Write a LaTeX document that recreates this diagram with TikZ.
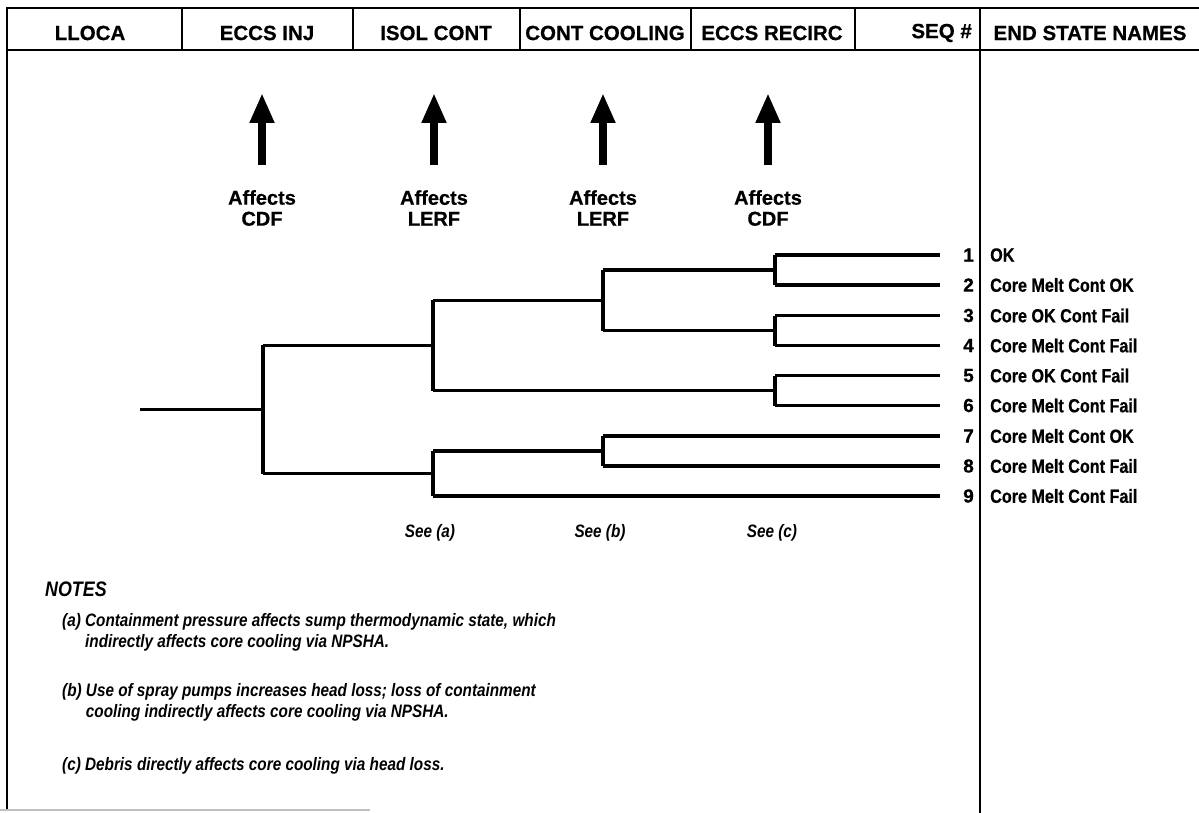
\documentclass[tikz,border=0pt]{standalone}
\usepackage{fontspec}
\setmainfont{Liberation Sans}[BoldFeatures={FakeBold=0.6}]
\newfontfamily\cnd{Liberation Sans}[FakeStretch=0.85,BoldFeatures={FakeBold=0.6}]
\usetikzlibrary{arrows.meta}
\begin{document}
\begin{tikzpicture}[x=1pt,y=-1pt,
  frame/.style={line width=2.8pt},
  branch/.style={line width=3.2pt},
  hdr/.style={font=\fontsize{20.5}{22}\selectfont\bfseries, inner sep=0pt},
  aff/.style={font=\fontsize{20}{21}\selectfont\bfseries, align=center, inner sep=0pt},
  bigarrow/.style={line width=8pt, -{Triangle[length=30pt,width=23pt]}},
  num/.style={font=\fontsize{19}{19}\selectfont\bfseries, anchor=east, inner sep=0pt},
  endst/.style={font=\cnd\fontsize{19}{19}\selectfont\bfseries, anchor=west, inner sep=0pt},
  note/.style={font=\cnd\fontsize{18}{21}\selectfont\bfseries\itshape, anchor=west, inner sep=0pt, align=left},
  see/.style={font=\cnd\fontsize{18}{18}\selectfont\bfseries\itshape, inner sep=0pt}
]
\useasboundingbox (0,0) rectangle (1199,813);
% frame
\coordinate (tl) at (7,8);
\coordinate (tr) at (1199,8);
\coordinate (bl) at (7,810);
\coordinate (hl) at (7,50);
\coordinate (hr) at (1199,50);
\draw[frame] (tr) -- (tl) -- (bl);
\draw[frame] (hl) -- (hr);
\foreach \x in {182,353,520,691,855} \draw[frame] (\x,8) -- (\x,50);
\coordinate (dt) at (980,8);
\coordinate (db) at (980,813);
\draw[frame] (dt) -- (db);
\coordinate (gl) at (0,810);
\coordinate (gr) at (370,810);
\draw[gray!50, line width=1.5pt] (gl) -- (gr);
% header texts
\node[hdr] (h1) at (90,33) {LLOCA};
\node[hdr] (h2) at (267,33) {ECCS INJ};
\node[hdr] (h3) at (436,33) {ISOL CONT};
\node[hdr] (h4) at (605,33) {CONT COOLING};
\node[hdr] (h5) at (772,33) {ECCS RECIRC};
\node[hdr, anchor=east] (h6) at (972,33) {SEQ \#};
\node[hdr] (h7) at (1090,33) {END STATE NAMES};
% arrows and labels
\foreach \i/\x/\t in {1/262/CDF,2/434/LERF,3/603/LERF,4/768/CDF}{
  \node[aff] (af\i) at (\x,208) {Affects\\\t};
  \coordinate (ab\i) at (\x,165);
  \coordinate (at\i) at (\x,93);
  \draw[bigarrow] (ab\i) -- (at\i);
}
% tree
\coordinate (s0) at (140,409.4);
\coordinate (s1) at (263,409.4);
\coordinate (a1) at (263,345.4);
\coordinate (a2) at (263,473.5);
\coordinate (b1) at (433,345.4);
\coordinate (b2) at (433,473.5);
\coordinate (bu1) at (433,300.25);
\coordinate (bu2) at (433,390.5);
\coordinate (bl1) at (433,451);
\coordinate (bl2) at (433,496);
\coordinate (c1) at (603,300.25);
\coordinate (cu1) at (603,270);
\coordinate (cu2) at (603,330.5);
\coordinate (cl1) at (603,451);
\coordinate (cl2) at (603,436);
\coordinate (cl3) at (603,466);
\coordinate (d1) at (775,270);
\coordinate (d2) at (775,330.5);
\coordinate (d3) at (775,390.5);
\coordinate (e1) at (775,255);
\coordinate (e2) at (775,285);
\coordinate (e3) at (775,315.5);
\coordinate (e4) at (775,345.5);
\coordinate (e5) at (775,375.5);
\coordinate (e6) at (775,405.5);
\foreach \i/\y in {1/255,2/285,3/315.5,4/345.5,5/375.5,6/405.5,7/436,8/466,9/496}{
  \coordinate (r\i) at (940,\y);
}
\draw[branch] (s0) -- (s1);
\draw[branch] (a1) -- (a2);
\draw[branch] (a1) -- (b1);
\draw[branch] (a2) -- (b2);
\draw[branch] (bu1) -- (bu2);
\draw[branch] (bl1) -- (bl2);
\draw[branch] (bu1) -- (c1);
\draw[branch] (bu2) -- (d3);
\draw[branch] (bl1) -- (cl1);
\draw[branch] (bl2) -- (r9);
\draw[branch] (cu1) -- (cu2);
\draw[branch] (cu1) -- (d1);
\draw[branch] (cu2) -- (d2);
\draw[branch] (cl2) -- (cl3);
\draw[branch] (cl2) -- (r7);
\draw[branch] (cl3) -- (r8);
\draw[branch] (e1) -- (e2);
\draw[branch] (e3) -- (e4);
\draw[branch] (e5) -- (e6);
\draw[branch] (e1) -- (r1);
\draw[branch] (e2) -- (r2);
\draw[branch] (e3) -- (r3);
\draw[branch] (e4) -- (r4);
\draw[branch] (e5) -- (r5);
\draw[branch] (e6) -- (r6);
% sequence numbers and end states
\foreach \i/\y/\t in {1/255/OK,2/285/Core Melt Cont OK,3/315.5/Core OK Cont Fail,4/345.5/Core Melt Cont Fail,5/375.5/Core OK Cont Fail,6/405.5/Core Melt Cont Fail,7/436/Core Melt Cont OK,8/466/Core Melt Cont Fail,9/496/Core Melt Cont Fail}{
  \node[num] (n\i) at (974,\y) {\i};
  \node[endst] (es\i) at (990,\y) {\t};
}
% see labels
\node[see] (sa) at (430,533) {See (a)};
\node[see] (sb) at (600,533) {See (b)};
\node[see] (sc) at (772,533) {See (c)};
% notes
\node[note, font=\cnd\fontsize{21}{21}\selectfont\bfseries\itshape] (nt) at (45,589) {NOTES};
\node[note] (na) at (62,632) {(a) Containment pressure affects sump thermodynamic state, which\\\hphantom{(a) }indirectly affects core cooling via NPSHA.};
\node[note] (nb) at (62,702) {(b) Use of spray pumps increases head loss; loss of containment\\\hphantom{(b) }cooling indirectly affects core cooling via NPSHA.};
\node[note] (nc) at (62,766) {(c) Debris directly affects core cooling via head loss.};
\end{tikzpicture}
\end{document}
